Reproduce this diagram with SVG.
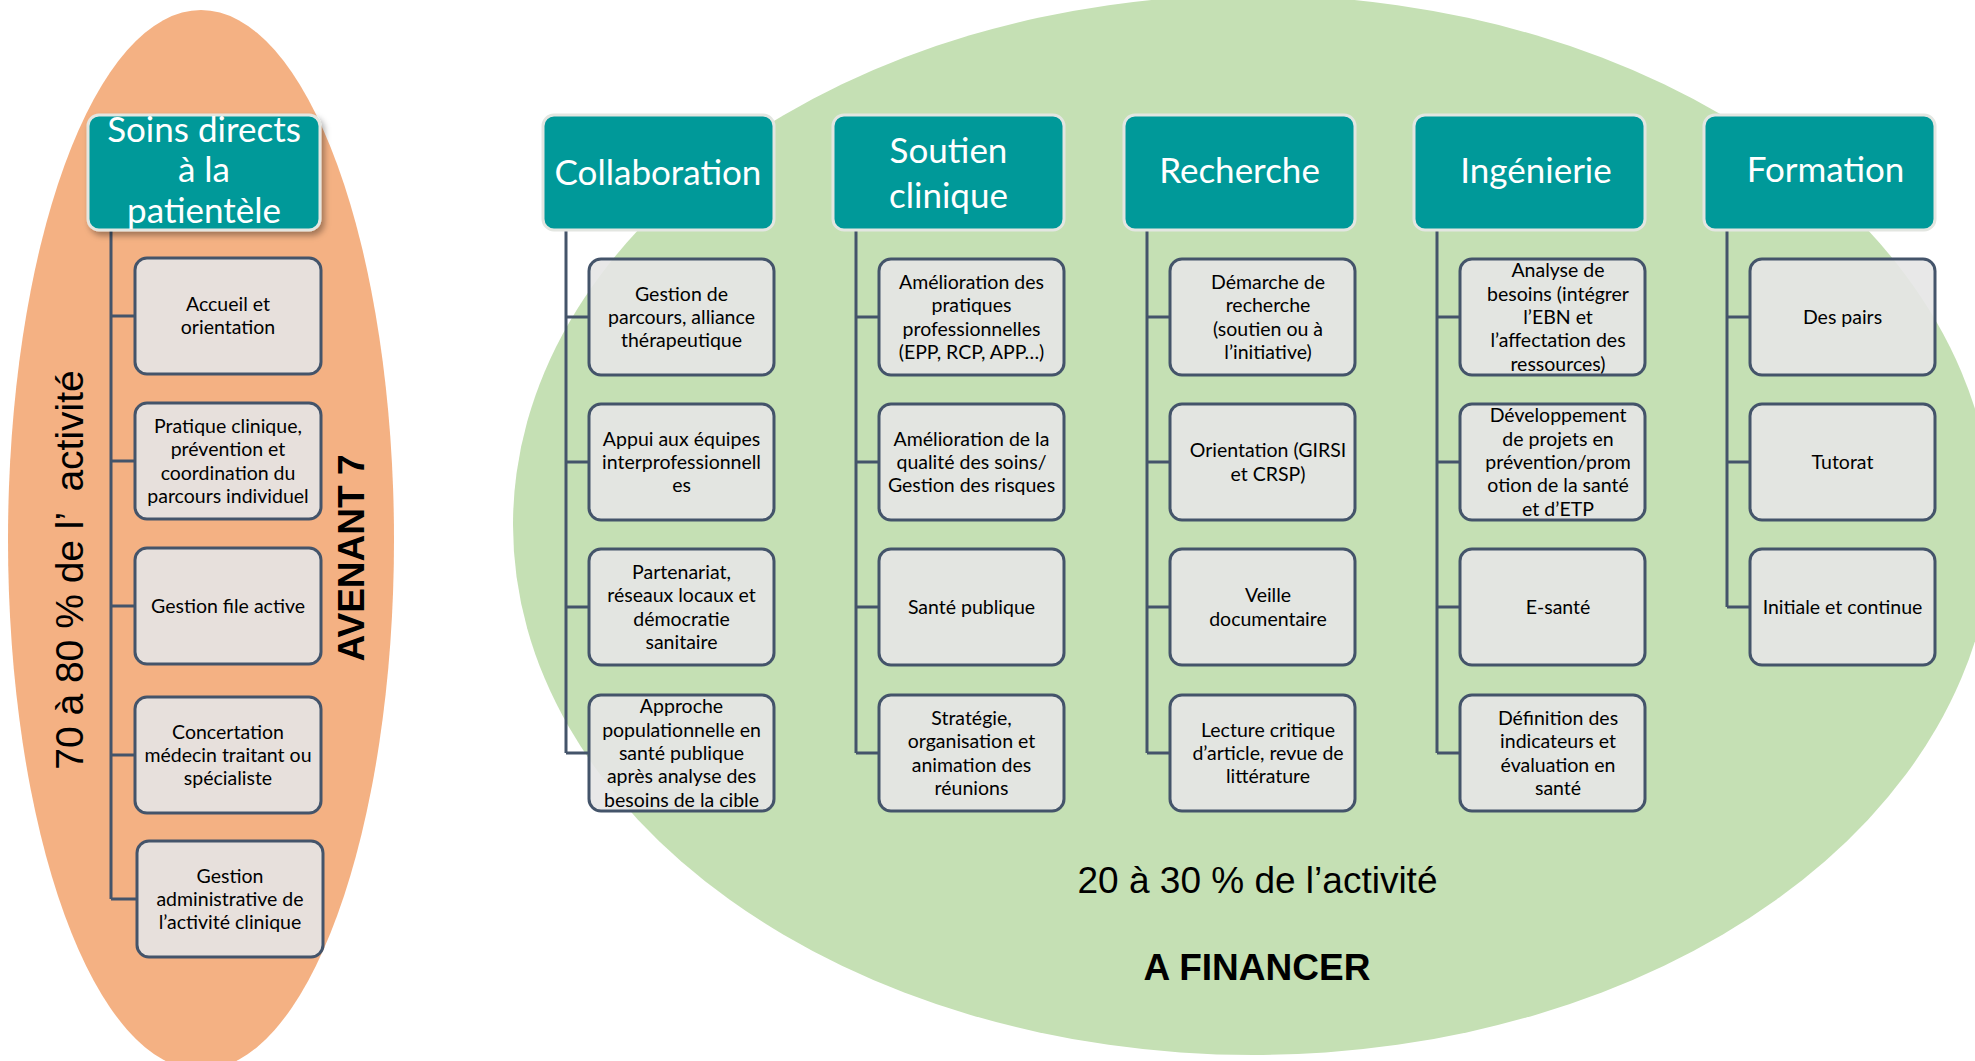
<svg xmlns="http://www.w3.org/2000/svg" width="1975" height="1061" viewBox="0 0 1975 1061">
<defs>
<style>
.bg{fill:#FFFFFF}
.hdr{fill:#009999;stroke:#E3E6E1;stroke-width:3}
.box{fill:#E6E6E6;fill-opacity:0.9;stroke:#44546A;stroke-width:3}
.ln{fill:none;stroke:#44546A;stroke-width:3}
.ht{font-family:Lato,"Noto Sans",sans-serif;font-size:35px;fill:#FFFFFF;text-anchor:middle}
.ct{font-family:Lato,"Noto Sans",sans-serif;font-size:19.5px;fill:#000000;text-anchor:middle}
.ar{font-family:"Liberation Sans",Arial,sans-serif;fill:#000000;text-anchor:middle;white-space:pre}
</style>
<filter id="sh" x="-10%" y="-10%" width="130%" height="140%">
<feDropShadow dx="3" dy="4" stdDeviation="3" flood-color="#000000" flood-opacity="0.35"/>
</filter>
</defs>
<rect class="bg" x="0" y="0" width="1975" height="1061"/>
<ellipse id="orange-zone" cx="201" cy="540" rx="193" ry="530" fill="#F4B183"/>
<ellipse id="green-zone" cx="1253" cy="525" rx="740" ry="530" fill="#C5E0B4"/>

<g id="connectors">
<path class="ln" d="M111 230 V899 M111 316 H135 M111 461 H135 M111 606 H135 M111 755 H135 M111 899 H137"/>
<path class="ln" d="M566 230 V753 M566 317 H589 M566 462 H589 M566 607 H589 M566 753 H589"/>
<path class="ln" d="M856 230 V753 M856 317 H879 M856 462 H879 M856 607 H879 M856 753 H879"/>
<path class="ln" d="M1147 230 V753 M1147 317 H1170 M1147 462 H1170 M1147 607 H1170 M1147 753 H1170"/>
<path class="ln" d="M1437 230 V753 M1437 317 H1460 M1437 462 H1460 M1437 607 H1460 M1437 753 H1460"/>
<path class="ln" d="M1727 230 V607 M1727 317 H1750 M1727 462 H1750 M1727 607 H1750"/>
</g>

<g id="soins">
<rect class="hdr" x="88" y="115" width="232" height="115" rx="11" filter="url(#sh)"/>
<text class="ht" x="204" y="142"><tspan x="204">Soins directs</tspan><tspan x="204" dy="40">à la</tspan><tspan x="204" dy="41">patientèle</tspan></text>
</g>
<g id="s1"><rect class="box" x="135" y="258" width="186" height="116" rx="12"/>
<text class="ct" x="228" y="311"><tspan x="228">Accueil et</tspan><tspan x="228" dy="23.4">orientation</tspan></text></g>
<g id="s2"><rect class="box" x="135" y="403" width="186" height="116" rx="12"/>
<text class="ct" x="228" y="433"><tspan x="228">Pratique clinique,</tspan><tspan x="228" dy="23.4">prévention et</tspan><tspan x="228" dy="23.4">coordination du</tspan><tspan x="228" dy="23.4">parcours individuel</tspan></text></g>
<g id="s3"><rect class="box" x="135" y="548" width="186" height="116" rx="12"/>
<text class="ct" x="228" y="613">Gestion file active</text></g>
<g id="s4"><rect class="box" x="135" y="697" width="186" height="116" rx="12"/>
<text class="ct" x="228" y="738.6"><tspan x="228">Concertation</tspan><tspan x="228" dy="23.4">médecin traitant ou</tspan><tspan x="228" dy="23.4">spécialiste</tspan></text></g>
<g id="s5"><rect class="box" x="137" y="841" width="186" height="116" rx="12"/>
<text class="ct" x="230" y="882.6"><tspan x="230">Gestion</tspan><tspan x="230" dy="23.4">administrative de</tspan><tspan x="230" dy="23.4">l’activité clinique</tspan></text></g>

<g id="collaboration">
<rect class="hdr" x="543" y="115" width="231" height="115" rx="11"/>
<text class="ht" x="658" y="185">Collaboration</text>
</g>
<g id="c1"><rect class="box" x="589" y="259" width="185" height="116" rx="12"/>
<text class="ct" x="681.5" y="300.6"><tspan x="681.5">Gestion de</tspan><tspan x="681.5" dy="23.4">parcours, alliance</tspan><tspan x="681.5" dy="23.4">thérapeutique</tspan></text></g>
<g id="c2"><rect class="box" x="589" y="404" width="185" height="116" rx="12"/>
<text class="ct" x="681.5" y="445.6"><tspan x="681.5">Appui aux équipes</tspan><tspan x="681.5" dy="23.4">interprofessionnell</tspan><tspan x="681.5" dy="23.4">es</tspan></text></g>
<g id="c3"><rect class="box" x="589" y="549" width="185" height="116" rx="12"/>
<text class="ct" x="681.5" y="578.9"><tspan x="681.5">Partenariat,</tspan><tspan x="681.5" dy="23.4">réseaux locaux et</tspan><tspan x="681.5" dy="23.4">démocratie</tspan><tspan x="681.5" dy="23.4">sanitaire</tspan></text></g>
<g id="c4"><rect class="box" x="589" y="695" width="185" height="116" rx="12"/>
<text class="ct" x="681.5" y="713.2"><tspan x="681.5">Approche</tspan><tspan x="681.5" dy="23.4">populationnelle en</tspan><tspan x="681.5" dy="23.4">santé publique</tspan><tspan x="681.5" dy="23.4">après analyse des</tspan><tspan x="681.5" dy="23.4">besoins de la cible</tspan></text></g>

<g id="soutien">
<rect class="hdr" x="833" y="115" width="231" height="115" rx="11"/>
<text class="ht" x="948.5" y="163"><tspan x="948.5">Soutien</tspan><tspan x="948.5" dy="45">clinique</tspan></text>
</g>
<g id="sc1"><rect class="box" x="879" y="259" width="185" height="116" rx="12"/>
<text class="ct" x="971.5" y="288.9"><tspan x="971.5">Amélioration des</tspan><tspan x="971.5" dy="23.4">pratiques</tspan><tspan x="971.5" dy="23.4">professionnelles</tspan><tspan x="971.5" dy="23.4">(EPP, RCP, APP…)</tspan></text></g>
<g id="sc2"><rect class="box" x="879" y="404" width="185" height="116" rx="12"/>
<text class="ct" x="971.5" y="445.6"><tspan x="971.5">Amélioration de la</tspan><tspan x="971.5" dy="23.4">qualité des soins/</tspan><tspan x="971.5" dy="23.4">Gestion des risques</tspan></text></g>
<g id="sc3"><rect class="box" x="879" y="549" width="185" height="116" rx="12"/>
<text class="ct" x="971.5" y="614">Santé publique</text></g>
<g id="sc4"><rect class="box" x="879" y="695" width="185" height="116" rx="12"/>
<text class="ct" x="971.5" y="724.9"><tspan x="971.5">Stratégie,</tspan><tspan x="971.5" dy="23.4">organisation et</tspan><tspan x="971.5" dy="23.4">animation des</tspan><tspan x="971.5" dy="23.4">réunions</tspan></text></g>

<g id="recherche">
<rect class="hdr" x="1124" y="115" width="231" height="115" rx="11"/>
<text class="ht" x="1239.5" y="183">Recherche</text>
</g>
<g id="r1"><rect class="box" x="1170" y="259" width="185" height="116" rx="12"/>
<text class="ct" x="1268" y="288.9"><tspan x="1268">Démarche de</tspan><tspan x="1268" dy="23.4">recherche</tspan><tspan x="1268" dy="23.4">(soutien ou à</tspan><tspan x="1268" dy="23.4">l’initiative)</tspan></text></g>
<g id="r2"><rect class="box" x="1170" y="404" width="185" height="116" rx="12"/>
<text class="ct" x="1268" y="457.3"><tspan x="1268">Orientation (GIRSI</tspan><tspan x="1268" dy="23.4">et CRSP)</tspan></text></g>
<g id="r3"><rect class="box" x="1170" y="549" width="185" height="116" rx="12"/>
<text class="ct" x="1268" y="602.3"><tspan x="1268">Veille</tspan><tspan x="1268" dy="23.4">documentaire</tspan></text></g>
<g id="r4"><rect class="box" x="1170" y="695" width="185" height="116" rx="12"/>
<text class="ct" x="1268" y="736.6"><tspan x="1268">Lecture critique</tspan><tspan x="1268" dy="23.4">d’article, revue de</tspan><tspan x="1268" dy="23.4">littérature</tspan></text></g>

<g id="ingenierie">
<rect class="hdr" x="1414" y="115" width="231" height="115" rx="11"/>
<text class="ht" x="1536" y="183">Ingénierie</text>
</g>
<g id="i1"><rect class="box" x="1460" y="259" width="185" height="116" rx="12"/>
<text class="ct" x="1558" y="277.2"><tspan x="1558">Analyse de</tspan><tspan x="1558" dy="23.4">besoins (intégrer</tspan><tspan x="1558" dy="23.4">l’EBN et</tspan><tspan x="1558" dy="23.4">l’affectation des</tspan><tspan x="1558" dy="23.4">ressources)</tspan></text></g>
<g id="i2"><rect class="box" x="1460" y="404" width="185" height="116" rx="12"/>
<text class="ct" x="1558" y="422.2"><tspan x="1558">Développement</tspan><tspan x="1558" dy="23.4">de projets en</tspan><tspan x="1558" dy="23.4">prévention/prom</tspan><tspan x="1558" dy="23.4">otion de la santé</tspan><tspan x="1558" dy="23.4">et d’ETP</tspan></text></g>
<g id="i3"><rect class="box" x="1460" y="549" width="185" height="116" rx="12"/>
<text class="ct" x="1558" y="614">E-santé</text></g>
<g id="i4"><rect class="box" x="1460" y="695" width="185" height="116" rx="12"/>
<text class="ct" x="1558" y="724.9"><tspan x="1558">Définition des</tspan><tspan x="1558" dy="23.4">indicateurs et</tspan><tspan x="1558" dy="23.4">évaluation en</tspan><tspan x="1558" dy="23.4">santé</tspan></text></g>

<g id="formation">
<rect class="hdr" x="1704" y="115" width="231" height="115" rx="11"/>
<text class="ht" x="1825.5" y="182">Formation</text>
</g>
<g id="f1"><rect class="box" x="1750" y="259" width="185" height="116" rx="12"/>
<text class="ct" x="1842.5" y="324">Des pairs</text></g>
<g id="f2"><rect class="box" x="1750" y="404" width="185" height="116" rx="12"/>
<text class="ct" x="1842.5" y="469">Tutorat</text></g>
<g id="f3"><rect class="box" x="1750" y="549" width="185" height="116" rx="12"/>
<text class="ct" x="1842.5" y="614">Initiale et continue</text></g>

<text class="ar" font-size="39" transform="translate(83 570) rotate(-90)">70 à 80 % de l’  activité</text>
<text class="ar" font-size="37" font-weight="bold" transform="translate(364 558) rotate(-90)">AVENANT 7</text>
<text class="ar" font-size="37" x="1257.5" y="893">20 à 30 % de l’activité</text>
<text class="ar" font-size="37" font-weight="bold" x="1257" y="980">A FINANCER</text>
</svg>
